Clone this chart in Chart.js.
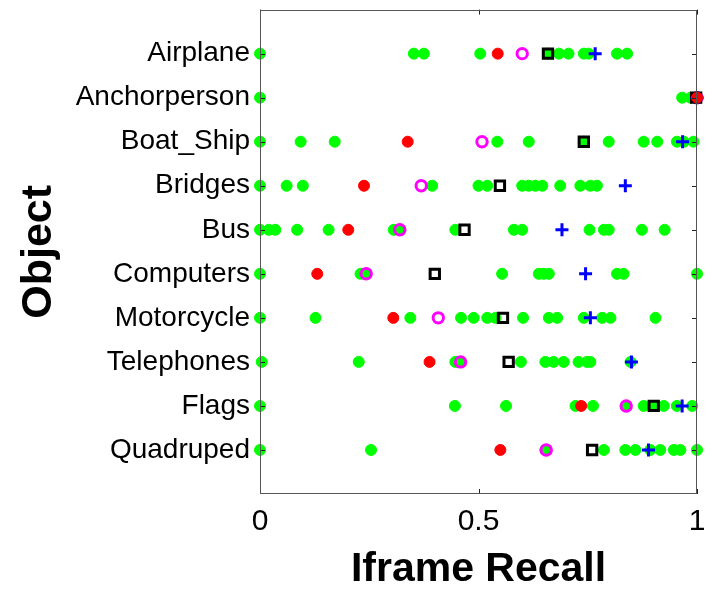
<!DOCTYPE html>
<html>
<head>
<meta charset="utf-8">
<script src="https://cdn.jsdelivr.net/npm/chart.js@4"></script>
<style>
html,body{margin:0;padding:0;background:#fff;}
#wrap{width:718px;height:590px;position:relative;}
</style>
</head>
<body>
<div id="wrap"><canvas id="c" width="718" height="590"></canvas></div>
<script>
const categories = ['Airplane','Anchorperson','Boat_Ship','Bridges','Bus','Computers','Motorcycle','Telephones','Flags','Quadruped'];
const xTicks = [0, 0.5, 1];

const greenValues = [
  [0, 0.352, 0.375, 0.504, 0.659, 0.684, 0.706, 0.741, 0.752, 0.817, 0.840],
  [0, 0.966, 0.985],
  [0, 0.093, 0.171, 0.543, 0.615, 0.741, 0.798, 0.878, 0.909, 0.954, 0.970, 0.992],
  [0, 0.061, 0.098, 0.394, 0.500, 0.520, 0.600, 0.615, 0.630, 0.646, 0.687, 0.733, 0.756, 0.771],
  [0, 0.020, 0.035, 0.085, 0.157, 0.306, 0.320, 0.447, 0.581, 0.600, 0.754, 0.787, 0.798, 0.874, 0.926],
  [0, 0.230, 0.241, 0.554, 0.638, 0.649, 0.661, 0.817, 0.832, 1.0],
  [0, 0.127, 0.344, 0.460, 0.489, 0.520, 0.539, 0.602, 0.661, 0.680, 0.741, 0.783, 0.802, 0.905],
  [0.004, 0.226, 0.447, 0.459, 0.597, 0.653, 0.672, 0.695, 0.729, 0.748, 0.756, 0.848],
  [0, 0.446, 0.563, 0.722, 0.762, 0.838, 0.878, 0.901, 0.924, 0.954, 0.989],
  [0, 0.254, 0.653, 0.787, 0.836, 0.859, 0.893, 0.916, 0.947, 0.962, 1.0]
];
const redValues     = [0.544, 1.0, 0.338, 0.238, 0.202, 0.131, 0.305, 0.388, 0.735, 0.550];
const magentaValues = [0.600, 1.0, 0.508, 0.369, 0.320, 0.243, 0.408, 0.459, 0.838, 0.655];
const blackValues   = [0.659, 0.998, 0.741, 0.549, 0.468, 0.400, 0.556, 0.569, 0.901, 0.760];
const blueValues    = [0.767, 1.0, 0.967, 0.836, 0.691, 0.745, 0.756, 0.850, 0.966, 0.889];

const FONT = "'Liberation Sans', Arial, Helvetica, sans-serif";

function toPoints(vals) { return vals.map((v, i) => ({x: v, y: i + 1})); }
const greenPoints = [];
greenValues.forEach((arr, i) => arr.forEach(v => greenPoints.push({x: v, y: i + 1})));

const inwardTicks = {
  id: 'inwardTicks',
  afterDraw(chart) {
    const {ctx, chartArea: a, scales: {x, y}} = chart;
    ctx.save();
    ctx.strokeStyle = '#222';
    ctx.lineWidth = 1;
    const L = 5;
    xTicks.forEach(v => {
      const px = Math.round(x.getPixelForValue(v)) + 0.5;
      ctx.beginPath();
      ctx.moveTo(px, a.bottom); ctx.lineTo(px, a.bottom - L);
      ctx.moveTo(px, a.top); ctx.lineTo(px, a.top + L);
      ctx.stroke();
    });
    categories.forEach((c, i) => {
      const py = Math.round(y.getPixelForValue(i + 1)) + 0.5;
      ctx.beginPath();
      ctx.moveTo(a.right, py); ctx.lineTo(a.right - L, py);
      ctx.moveTo(a.left, py); ctx.lineTo(a.left + L, py);
      ctx.stroke();
    });
    ctx.strokeStyle = '#555';
    ctx.strokeRect(Math.round(a.left) + 0.5, Math.round(a.top) + 0.5, Math.round(a.right - a.left) - 1, Math.round(a.bottom - a.top) - 1);
    ctx.restore();
  }
};

new Chart(document.getElementById('c'), {
  type: 'scatter',
  data: {
    datasets: [
      {label: 'red', data: toPoints(redValues), pointStyle: 'circle', pointRadius: 5.5, pointBorderWidth: 1,
       backgroundColor: '#ff0000', borderColor: '#ff0000', clip: false},
      {label: 'blue', data: toPoints(blueValues), pointStyle: 'cross', pointRadius: 6.5, pointBorderWidth: 3,
       backgroundColor: '#0000ff', borderColor: '#0000ff', clip: false},
      {label: 'black', data: toPoints(blackValues), pointStyle: 'rect', pointRadius: 6.6, pointBorderWidth: 3,
       backgroundColor: 'rgba(0,0,0,0)', borderColor: '#000000', clip: false},
      {label: 'magenta', data: toPoints(magentaValues), pointStyle: 'circle', pointRadius: 5.2, pointBorderWidth: 3,
       backgroundColor: 'rgba(0,0,0,0)', borderColor: '#ff00ff', clip: false},
      {label: 'green', data: greenPoints, pointStyle: 'circle', pointRadius: 5.5, pointBorderWidth: 1,
       backgroundColor: '#00ff00', borderColor: '#00ff00', clip: false}
    ]
  },
  options: {
    responsive: false,
    animation: false,
    events: [],
    layout: {padding: {top: 7, right: 21, left: 0, bottom: 0}},
    plugins: {legend: {display: false}, tooltip: {enabled: false}},
    scales: {
      x: {
        type: 'linear', min: 0, max: 1,
        afterBuildTicks(s) { s.ticks = xTicks.map(v => ({value: v})); },
        afterFit(s) { s.height = 96; s.paddingLeft = 0; s.paddingRight = 0; },
        grid: {display: false, drawTicks: false},
        border: {display: false},
        ticks: {color: '#000', padding: 10, font: {family: FONT, size: 30},
                callback: v => String(v), maxRotation: 0},
        title: {display: true, text: 'Iframe Recall', color: '#000',
                font: {family: FONT, size: 41, weight: 'bold', lineHeight: 1}, padding: {top: 0, bottom: 0}}
      },
      y: {
        type: 'linear', min: 0, max: 11, reverse: true,
        afterBuildTicks(s) { s.ticks = categories.map((c, i) => ({value: i + 1})); },
        afterFit(s) { s.width = 260; s.paddingTop = 0; s.paddingBottom = 0; },
        grid: {display: false, drawTicks: false},
        border: {display: false},
        ticks: {color: '#000', padding: 10, font: {family: FONT, size: 28},
                callback: v => categories[v - 1] || ''},
        title: {display: true, text: 'Object', color: '#000',
                font: {family: FONT, size: 43, weight: 'bold', lineHeight: 1}, padding: {top: 18, bottom: 0}}
      }
    }
  },
  plugins: [inwardTicks]
});
</script>
</body>
</html>
